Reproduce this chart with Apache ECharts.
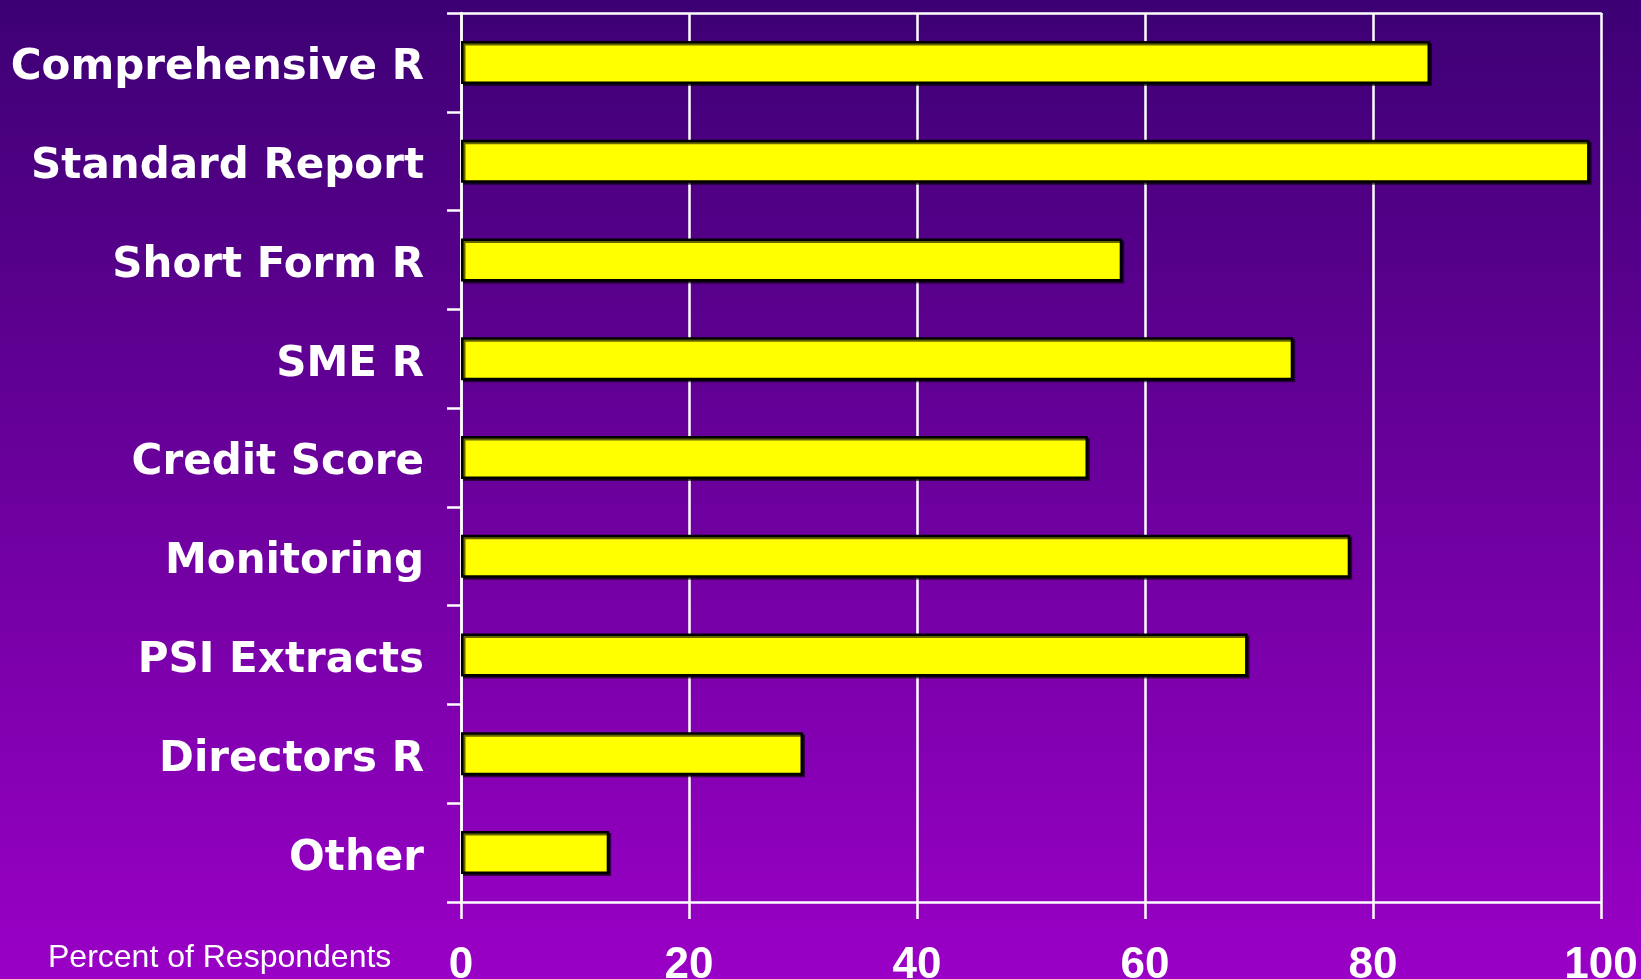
<!DOCTYPE html>
<html>
<head>
    <meta charset="utf-8" />
    <title>Percent of Respondents</title>
    <script src="https://cdn.jsdelivr.net/npm/echarts@6/dist/echarts.min.js"></script>
    <style>
        html, body { margin: 0; padding: 0; }
        #chart { width: 1641px; height: 979px; }
    </style>
</head>
<body>
    <div id="chart"></div>
    <script type="text/javascript">
        var categories = ['Comprehensive R', 'Standard Report', 'Short Form R', 'SME R', 'Credit Score',
            'Monitoring', 'PSI Extracts', 'Directors R', 'Other'];
        var percents = [85, 99, 58, 73, 55, 78, 69, 30, 13];
        var xTicks = [0, 20, 40, 60, 80, 100];

        var chart = echarts.init(document.getElementById('chart'));
        var white = '#ffffff';
        var option = {
            backgroundColor: new echarts.graphic.LinearGradient(0, 0, 0, 1, [
                { offset: 0, color: '#3d0074' },
                { offset: 1, color: '#9a00c6' }
            ]),
            title: {
                text: 'Percent of Respondents',
                left: 43,
                top: 937,
                textStyle: {
                    color: white,
                    fontFamily: 'Liberation Sans',
                    fontWeight: 'normal',
                    fontSize: 32
                }
            },
            grid: { left: 461, right: 40, top: 13, bottom: 77, outerBoundsMode: 'none', containLabel: false },
            xAxis: [{
                type: 'value',
                position: 'bottom',
                min: xTicks[0],
                max: xTicks[xTicks.length - 1],
                interval: 20,
                axisLine: { show: true, lineStyle: { color: white, width: 2.5 } },
                axisTick: { show: true, length: 17, lineStyle: { color: white, width: 2.5 } },
                axisLabel: {
                    color: white,
                    fontFamily: 'Liberation Sans',
                    fontWeight: 'bold',
                    fontSize: 44,
                    margin: 42
                },
                splitLine: { show: true, lineStyle: { color: white, width: 2.5 } }
            }, {
                type: 'value',
                position: 'top',
                min: 0,
                max: 100,
                axisLine: { show: true, lineStyle: { color: white, width: 2.5 } },
                axisTick: { show: false },
                axisLabel: { show: false },
                splitLine: { show: false }
            }],
            yAxis: {
                type: 'category',
                data: categories,
                inverse: true,
                axisLine: { show: true, lineStyle: { color: white, width: 2.5 } },
                axisTick: { show: true, length: 14, interval: 0, lineStyle: { color: white, width: 2.5 } },
                axisLabel: {
                    color: white,
                    fontFamily: 'DejaVu Sans',
                    fontWeight: 'bold',
                    fontSize: 42,
                    margin: 37,
                    interval: 0,
                    verticalAlign: 'top',
                    lineHeight: 12
                }
            },
            series: [{
                type: 'bar',
                data: percents,
                barWidth: 43,
                itemStyle: {
                    color: '#ffff00',
                    borderColor: '#000000',
                    borderWidth: 2.5,
                    shadowColor: 'rgba(0,0,0,0.6)',
                    shadowOffsetX: 2,
                    shadowOffsetY: 2
                },
                animation: false
            }]
        };
        chart.setOption(option);
    </script>
</body>
</html>
